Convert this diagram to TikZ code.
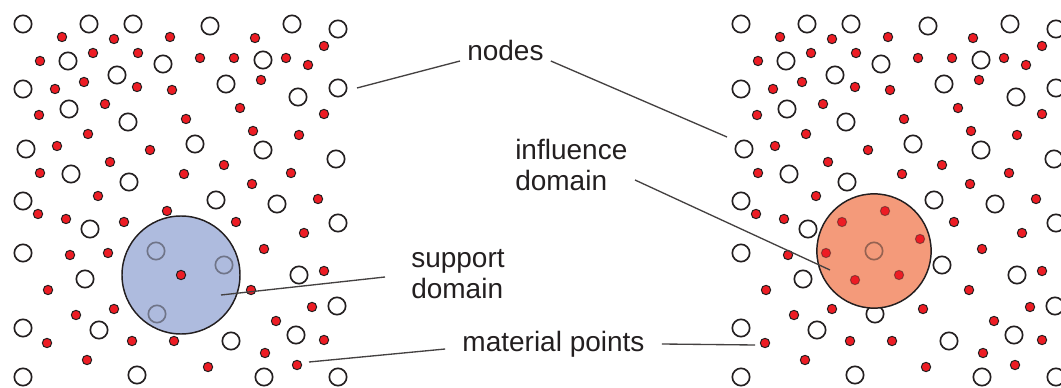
\documentclass[tikz,border=0pt]{standalone}
\usepackage{fontspec}
\setmainfont{Liberation Sans}
\begin{document}
\begin{tikzpicture}[x=0.75pt,y=-0.75pt,
    fenode/.style={shape=circle,draw=ink,fill=white,line width=1.25pt,inner sep=0pt,minimum size=13pt},
    mpoint/.style={shape=circle,draw=ink,fill=ptred,line width=0.75pt,inner sep=0pt,minimum size=7pt},
    faded/.style={draw opacity=0.45},
    domdisc/.style={shape=circle,draw=ink,line width=1.1pt,inner sep=0pt},
    leader/.style={draw=ink!85,line width=1pt},
    lbl/.style={text=ink,font=\fontsize{21}{23.25}\selectfont,align=left,inner sep=0pt}]
    \definecolor{ink}{RGB}{35,31,32}
    \definecolor{ptred}{RGB}{237,28,36}
    \definecolor{supblue}{RGB}{174,187,222}
    \definecolor{inflorange}{RGB}{244,154,122}
    \useasboundingbox (0,0) rectangle (1061,388);
    \clip (0,0) rectangle (1061,388);
    \foreach \dx/\pn in {0/l,718/r} {
        \foreach \x/\y [count=\i] in {23/24,89/24,133/24,210/26,292/24,338/29,68/61,163/64,117/75,263/60,
            23/89,226/84,298/97,338/88,69/109,128/122,26/149,195/144,263/150,336/159,
            71/174,129/182,23/201,216/200,277/204,90/229,338/223,23/253,156/251,224/265,
            85/279,299/275,157/314,337/306,23/328,99/330,296/335,231/341,23/377,137/375,
            264/377,338/377}
            \node[fenode] (\pn-n\i) at (\x+\dx,\y) {};
        \foreach \x/\y [count=\i] in {181/275,124/222,167/211,108/253,137/280,202/239,
            62/37,114/39,170/37,255/38,324/46,40/61,93/53,138/53,200/58,234/58,286/58,308/65,
            55/89,84/82,137/87,172/90,261/80,105/104,39/115,240/108,324/114,186/119,
            88/134,253/131,299/135,57/146,150/150,224/165,110/162,40/173,184/174,291/173,252/184,
            98/196,318/199,38/214,66/219,236/222,304/233,264/249,70/255,324/271,
            48/290,251/290,114/309,76/315,205/309,312/307,276/321,
            47/343,132/341,174/341,324/340,87/360,265/353,208/367,297/365}
            \node[mpoint] (\pn-p\i) at (\x+\dx,\y) {};
    }
    \node[domdisc,fill=supblue,minimum size=88.5pt] (supdom) at (l-p1) {};
    \foreach \i in {29,30,33}
        \node[fenode,fill=none,faded] (sd-n\i) at (l-n\i) {};
    \node[mpoint] (sd-p1) at (l-p1) {};
    \node[domdisc,fill=inflorange,minimum size=85.7pt] (infdom) at (r-n29) {};
    \node[fenode,fill=none,faded] (id-n29) at (r-n29) {};
    \foreach \i in {1,...,6}
        \node[mpoint,faded] (id-p\i) at (r-p\i) {};
    \coordinate (nodesTipL) at (357,88);
    \coordinate (nodesTipR) at (727,137);
    \coordinate (supTip) at (221,295);
    \coordinate (inflTail) at (635,180);
    \coordinate (inflTip) at (830,270);
    \coordinate (matTipL) at (309,362);
    \coordinate (matTipR) at (755,345);
    \node[lbl,anchor=base west,inner xsep=5.25pt] (nodesLbl) at (460,61) {nodes};
    \node[lbl,anchor=west,inner xsep=19.5pt] (supLbl) at (385,274) {support\\domain};
    \node[lbl,anchor=west] (inflLbl) at (515,165) {influence\\domain};
    \node[lbl,inner xsep=12.75pt] (matLbl) at (553.5,344) {material points};
    \draw[leader] (nodesLbl.base west) -- (nodesTipL);
    \draw[leader] (nodesLbl.base east) -- (nodesTipR);
    \draw[leader] ([yshift=-2.25pt]supLbl.west) -- (supTip);
    \draw[leader] (inflTail) -- (inflTip);
    \draw[leader] ([yshift=-3.75pt]matLbl.west) -- (matTipL);
    \draw[leader] (matLbl.east) -- (matTipR);
\end{tikzpicture}
\end{document}
